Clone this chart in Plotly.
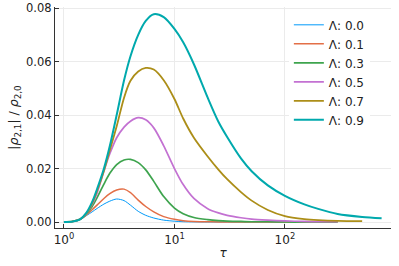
import plotly.graph_objects as go

tau = [1.0, 1.2, 1.4, 1.6, 1.8, 2.0, 2.3, 2.6, 3.0, 3.5, 4.0, 4.7, 5.5, 6.5, 8.0, 10, 12, 15, 20,
       25, 30, 40, 50, 70, 100, 150, 200, 300, 500, 750]

lam_00 = [0, 0.0002, 0.0010, 0.0024, 0.0038, 0.0051, 0.0067, 0.0078, 0.0086, 0.0080, 0.0063, 0.0040,
          0.0025, 0.0015, 0.0007, 0.0003, 0.0001, 0.00005, 0, 0, 0, 0, 0, 0, 0]
lam_01 = [0, 0.0002, 0.0010, 0.0027, 0.0046, 0.0064, 0.0088, 0.0106, 0.0120, 0.0123, 0.0110, 0.0082,
          0.0058, 0.0038, 0.0020, 0.0010, 0.0005, 0.0002, 0.0001, 0, 0, 0, 0, 0, 0, 0, 0, 0]
lam_03 = [0, 0.0002, 0.0010, 0.0030, 0.0058, 0.0092, 0.0142, 0.0182, 0.0215, 0.0232, 0.0234, 0.0222,
          0.0195, 0.0152, 0.0095, 0.0052, 0.0031, 0.0017, 0.0009, 0.0005, 0.0003, 0.0002, 0.0001,
          0.0001, 0, 0, 0, 0]
lam_05 = [0, 0.0002, 0.0010, 0.0032, 0.0066, 0.0110, 0.0190, 0.0255, 0.0315, 0.0355, 0.0377, 0.0390,
          0.0382, 0.0352, 0.0285, 0.0200, 0.0140, 0.0088, 0.0050, 0.0034, 0.0025, 0.0016, 0.0011,
          0.0007, 0.0004, 0.0002, 0.0001, 0.0001]
lam_07 = [0, 0.0002, 0.0010, 0.0033, 0.0070, 0.0118, 0.0192, 0.0268, 0.0358, 0.0465, 0.0528, 0.0563,
          0.0576, 0.0570, 0.0530, 0.0460, 0.0387, 0.0315, 0.0245, 0.0196, 0.0160, 0.0112, 0.0080,
          0.0045, 0.0022, 0.0011, 0.0007, 0.0004, 0.0003]
lam_09 = [0, 0.0002, 0.0010, 0.0035, 0.0075, 0.0125, 0.0200, 0.0284, 0.0400, 0.0530, 0.0620, 0.0700,
          0.0752, 0.0777, 0.0766, 0.0722, 0.0672, 0.0590, 0.0465, 0.0375, 0.0318, 0.0238, 0.0190,
          0.0137, 0.0098, 0.0066, 0.0049, 0.0030, 0.0019, 0.0014]

series = [("Λ: 0.0", lam_00), ("Λ: 0.1", lam_01), ("Λ: 0.3", lam_03),
          ("Λ: 0.5", lam_05), ("Λ: 0.7", lam_07), ("Λ: 0.9", lam_09)]
colors = ["#009AFA", "#E36F47", "#3EA44E", "#C371D2", "#AC8E18", "#00A9AD"]
widths = [1.0, 1.5, 1.7, 1.7, 1.8, 2.0]

x_ticks = [1, 10, 100]
x_ticktext = ["10<sup>0</sup>", "10<sup>1</sup>", "10<sup>2</sup>"]
y_ticks = [0.0, 0.02, 0.04, 0.06, 0.08]

fig = go.Figure()
for (name, vals), c, w in zip(series, colors, widths):
    fig.add_trace(go.Scatter(x=tau[:len(vals)], y=vals, mode="lines", name=name,
                             line=dict(color=c, width=w, shape="spline", smoothing=0.8)))

txt = "#222222"
fig.update_layout(
    width=399, height=266,
    margin=dict(l=55, r=8, t=7, b=38),
    paper_bgcolor="white", plot_bgcolor="white",
    font=dict(family="DejaVu Sans", size=11.5, color=txt),
    showlegend=True,
    legend=dict(x=0.696, y=0.985, xanchor="left", yanchor="top", bgcolor="white",
                borderwidth=0, font=dict(family="DejaVu Sans", size=12, color=txt),
                tracegroupgap=0),
    xaxis=dict(type="log", range=[-0.081, 2.96], tickvals=x_ticks, ticktext=x_ticktext,
               tickfont=dict(size=12), automargin=False,
               showgrid=True, gridcolor="#EBEBEB", gridwidth=1,
               showline=True, linecolor="#333333", linewidth=1.3,
               ticks="inside", ticklen=4, tickcolor="#333333", zeroline=False,
               title=dict(text="<i>τ</i>", standoff=3, font=dict(size=12))),
    yaxis=dict(range=[-0.00224, 0.0804], tickvals=y_ticks, tickformat=".2f",
               automargin=False,
               showgrid=True, gridcolor="#EBEBEB", gridwidth=1,
               showline=True, linecolor="#333333", linewidth=1.3,
               ticks="inside", ticklen=4, tickcolor="#333333", zeroline=False,
               title=dict(text="|<i>ρ</i><sub>2,1</sub>| / <i>ρ</i><sub>2,0</sub>", standoff=4,
                          font=dict(size=12.5))),
)

fig.write_html("out.html", config={"displayModeBar": False},
               post_script="document.body.style.margin='0px';")
